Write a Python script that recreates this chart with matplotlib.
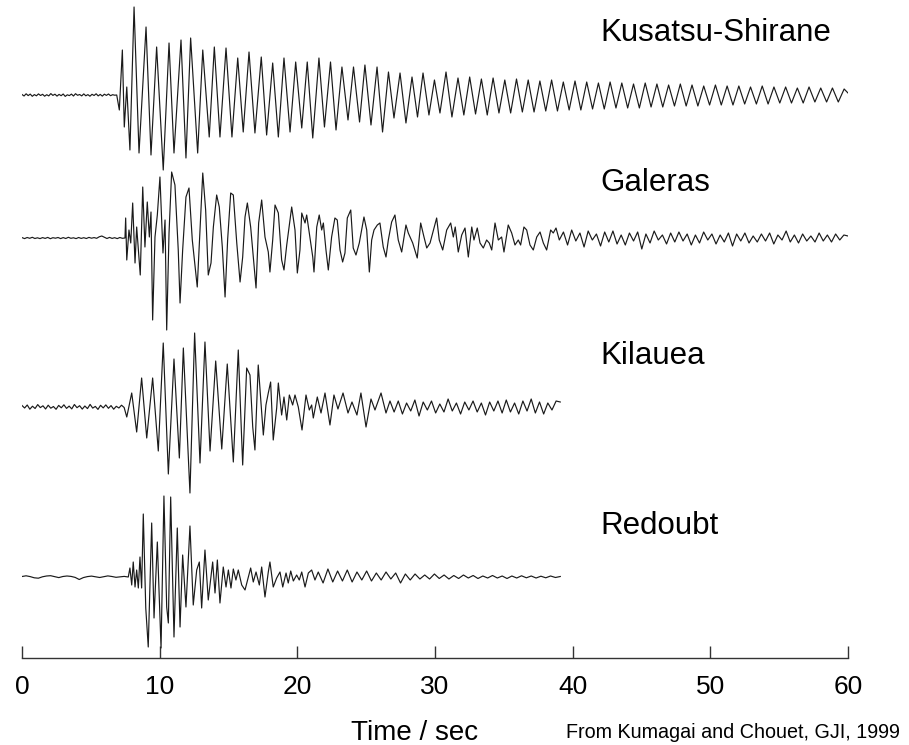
"""
Long-period volcanic events at four volcanoes, redrawn from
Kumagai and Chouet (GJI, 1999). Amplitudes are relative (picture units),
read off the published traces: noise before onset, then the extrema of
each oscillation, then the coda sampled on an even grid.
"""
import numpy as np
import matplotlib
matplotlib.use('Agg')
import matplotlib.pyplot as plt

# ── Data ──────────────────────────────────────────────────────────────────────
NAMES = ['Kusatsu-Shirane', 'Galeras', 'Kilauea', 'Redoubt']
TICKS = [0, 10, 20, 30, 40, 50, 60]

# Kusatsu-Shirane
KS_NOISE = [0.5, -1.0, 1.2, -0.6, 0.9, -1.3, 0.4, -0.8, 1.1, -0.5, 0.7, -1.2,
            0.3, -0.9, 1.4, -0.4, 0.8, -1.1, 0.6, -0.7, 1.0, -1.4, 0.2, -0.6,
            0.9, -1.0, 1.3, -0.3, 0.5, -0.9, 1.1, -0.8, 0.4, -1.2, 0.7, -0.5,
            1.2, -0.9, 0.6, -1.1, 0.8, -0.4, 1.0, -0.7, 0.3, -0.2]
KS_T = [6.88, 7.07, 7.29, 7.43, 7.61, 7.84, 8.14, 8.50, 9.01, 9.37, 9.78, 10.26,
        10.68, 11.04, 11.55, 11.91, 12.25, 12.76, 13.13, 13.60, 13.97, 14.38,
        14.82, 15.25, 15.67, 16.07, 16.49, 16.92, 17.38, 17.77, 18.21, 18.62,
        19.03, 19.47, 19.88, 20.32, 20.72, 21.12, 21.57, 21.97, 22.41, 22.81,
        23.24, 23.68, 24.08, 24.52, 24.91, 25.35, 25.79, 26.19, 26.62, 27.02,
        27.46, 27.89, 28.33, 28.73, 29.13, 29.56, 29.96, 30.36, 30.80, 31.23]
KS_A = [0, -15, 45, -32, 8, -55, 88, -58, 68, -60, 48, -75, 52, -58, 55, -63,
        57, -58, 45, -42, 48, -42, 47, -42, 37, -37, 43, -38, 38, -40, 32, -42,
        37, -37, 33, -33, 33, -43, 37, -32, 33, -35, 28, -25, 28, -27, 30, -30,
        28, -37, 23, -23, 22, -28, 18, -22, 22, -20, 15, -18, 23, -22]
KS_TAIL_SPAN = (31.67, 59.72)
KS_TAIL = [17, -20, 18, -19, 16, -20, 17, -18, 15, -18, 16, -17, 15, -17, 14,
           -16, 15, -16, 13, -15, 14, -15, 13, -14, 12, -14, 13, -13, 12, -13,
           11, -13, 12, -12, 11, -12, 10, -11, 11, -11, 10, -11, 9, -10, 10,
           -10, 9, -10, 9, -9, 8, -9, 9, -9, 8, -8, 8, -8, 7, -8, 8, -7, 7, -7,
           7, -7, 6]
KS_END = (60.0, 2)

# Galeras
GA_NOISE = [0.4, -0.6, 0.5, -0.3, 0.7, -0.5, 0.2, -0.6, 0.4, -0.4, 0.6, -0.7,
            0.3, -0.2, 0.5, -0.6, 0.4, -0.5, 0.7, -0.3, 0.2, -0.6, 0.5, -0.4,
            0.3, -0.5, 0.6, -0.2, 0.4, -0.3, 1.2, 2.0, 0.8, -0.5, 0.6, -0.4,
            0.3, -0.6, 0.5, -0.3]
GA_T = [7.48, 7.53, 7.61, 7.77, 7.90, 8.04, 8.21, 8.33, 8.59, 8.77, 8.93, 9.10,
        9.25, 9.37, 9.49, 9.66, 9.83, 10.02, 10.24, 10.39, 10.51, 10.68, 10.87,
        11.11, 11.35, 11.48, 11.67, 11.91, 12.13, 12.37, 12.73, 12.93, 13.13,
        13.34, 13.53, 13.73, 13.90, 14.14, 14.33, 14.55, 14.75, 14.94, 15.16,
        15.35, 15.60, 15.84, 16.03, 16.20, 16.37, 16.61, 17.00, 17.19, 17.41,
        17.65, 17.89, 18.01, 18.21, 18.38, 18.62, 18.86, 19.03, 19.23, 19.39,
        19.59, 19.83, 20.00, 20.19, 20.32, 20.56, 20.68, 20.87, 21.12, 21.21,
        21.41, 21.59, 21.77, 21.89, 22.08, 22.25, 22.49, 22.73, 22.90, 23.10,
        23.29, 23.46, 23.63, 23.88, 24.06, 24.26, 24.50, 24.84, 25.04, 25.23,
        25.40, 25.57, 25.81, 26.00, 26.24, 26.44, 26.61, 26.85, 27.09, 27.33,
        27.58, 27.89, 28.06, 28.38, 28.71, 28.96, 29.20, 29.40, 29.64, 29.83,
        30.12, 30.31, 30.56, 30.85, 31.14, 31.33, 31.47, 31.69, 31.94, 32.18,
        32.42, 32.67, 32.83, 33.07, 33.27, 33.51, 33.75, 33.94, 34.12, 34.36,
        34.60, 34.84, 35.01, 35.32, 35.57, 35.81, 36.05, 36.22, 36.46, 36.66,
        36.90, 37.14, 37.39, 37.63, 37.87, 38.11, 38.40, 38.59, 38.79, 39.03]
GA_A = [0, 20, -22, 8, -5, 35, -25, 11, -37, 51, -9, 36, 1, 26, -82, 1, 23, 61,
        -15, 18, -92, 5, 66, 53, -12, -65, -12, 41, 50, -2, -49, 8, 65, 28, -37,
        -25, 11, 43, 31, -9, -59, -1, 45, 43, -5, -44, -19, 21, 35, 11, -50, 15,
        38, 1, -14, -34, -2, 33, 25, -22, -32, -7, 10, 31, 8, -35, -12, 25, 15,
        23, 5, -19, -34, 11, 23, 8, 15, -12, -32, 1, 20, 18, -12, -24, -15, 20,
        28, -10, -17, -5, 21, 8, -34, -2, 8, 13, 15, -9, -19, -2, 16, 23, -2,
        -14, 13, 5, -5, -20, 15, 1, -10, -5, 5, 20, -2, -12, 8, 15, 1, 11, -14,
        3, 10, -19, 11, -2, 10, -5, -10, -2, -5, -12, 15, -2, 1, -14, 13, 5, -7,
        -2, -7, 11, 8, -7, -12, 1, 6, -5, -12, 8, 5, 10, -2]
GA_TAIL_SPAN = (39.33, 60.0)
GA_TAIL = [6, -7, 8, -3, 5, -9, 7, -2, 4, -8, 6, -4, 7, -6, 3, -7, 5, -3, 6,
           -11, 4, -5, 7, -2, 3, -6, 5, -4, 6, -3, 4, -7, 3, -5, 6, -2, 4, -6,
           3, -4, 5, -8, 4, -3, 5, -5, 2, -4, 4, -3, 5, -6, 3, -2, 7, -4, 3,
           -5, 4, -3, 2, -4, 5, -3, 3, -4, 4, -2, 3, 2]

# Kilauea
KI_NOISE = [1.5, -1.0, 2.0, -2.2, 0.8, -1.5, 2.4, -0.6, 1.2, -2.0, 1.8, -1.2,
            0.5, -2.3, 1.6, -0.8, 2.2, -1.4, 0.9, -1.9, 2.5, -0.7, 1.3, -2.1,
            1.0, -1.6, 2.6, -1.1, 0.6, -2.4, 1.7, -0.9, 2.1, -1.3, 1.4, -2.2,
            0.7, -1.0, 1.8, -0.5]
KI_T = [7.61, 7.97, 8.33, 8.69, 9.06, 9.49, 9.90, 10.26, 10.63, 11.04, 11.43,
        11.72, 12.20, 12.54, 12.93, 13.29, 13.66, 14.07, 14.51, 14.91, 15.35,
        15.71, 16.03, 16.32, 16.56, 16.76, 16.92, 17.16, 17.53, 17.72, 17.89,
        18.06, 18.25, 18.50, 18.62, 18.86, 19.03, 19.23, 19.42, 19.66, 19.83,
        20.07, 20.34, 20.63, 20.87, 21.04, 21.16, 21.45, 21.72, 22.01, 22.37,
        22.66, 22.95, 23.32, 23.68, 23.97, 24.33, 24.62, 24.99, 25.35, 25.64,
        26.08, 26.44, 26.73]
KI_A = [-10, 14, -25, 29, -31, 29, -44, 64, -67, 48, -51, 59, -86, 74, -56, 65,
        -44, 46, -42, 43, -55, 57, -58, 39, 32, -20, -43, 42, -28, 2, 14, 25,
        -33, -1, 24, -8, 10, -13, 12, 2, 12, 0, -23, 12, -3, 2, -11, 10, -6, 14,
        -18, 12, -2, 14, -6, 5, -8, 14, -20, 8, -3, 14, -6, 6]
KI_TAIL_SPAN = (27.03, 39.10)
KI_TAIL = [-5, 6, -7, 4, -4, 7, -9, 5, -3, 6, -6, 3, -5, 8, -4, 4, -7, 5, -3,
           6, -5, 4, -8, 5, -4, 6, -6, 7, -5, 4, -7, 6, -4, 8, -6, 5, -7, 4,
           -3, 6, 5]

# Redoubt
RD_NOISE = [0.5, 1.2, 0.4, -0.8, -1.2, 0.2, 1.0, 1.3, 0.3, -0.6, 0.5, 1.0,
            0.6, -0.4, -2.5, -0.6, 0.4, 0.9, 0.2, -0.5, 0.3, 1.1, 0.5, -0.3,
            0.2, 0.6]
RD_T = [7.72, 7.84, 7.97, 8.08, 8.21, 8.33, 8.45, 8.57, 8.69, 8.81, 8.99, 9.17,
        9.42, 9.59, 9.83, 10.10, 10.31, 10.51, 10.63, 10.80, 11.04, 11.28,
        11.48, 11.67, 11.91, 12.20, 12.44, 12.69, 12.88, 13.05, 13.29, 13.53,
        13.85, 14.02, 14.19, 14.38, 14.62, 14.82, 14.99, 15.18, 15.35, 15.54,
        15.71, 15.96, 16.20, 16.61, 16.80, 17.00, 17.24, 17.41, 17.65, 17.89,
        18.01, 18.25, 18.50, 18.74, 18.94, 19.18, 19.34, 19.52, 19.71, 19.95,
        20.14, 20.32, 20.56, 20.80, 21.04, 21.28, 21.52]
RD_A = [0, 9, -8, 15, -10, 7, -11, 20, -11, 63, -31, -70, 54, -41, 35, -71, 81,
        -30, -46, 80, -60, 49, -50, 22, -30, 51, -28, 7, 15, -31, 27, -23, 15,
        -16, 17, -26, 10, -10, 7, -11, 8, -3, 7, -8, -13, 9, -5, 5, -8, 10, -20,
        5, 15, -10, -1, 5, -10, 4, -6, 6, -4, 2, -3, 5, -10, 4, 7, -3, 5]
RD_TAIL_SPAN = (21.87, 39.10)
RD_TAIL = [-6, 8, -5, 6, -4, 7, -5, 5, -3, 6, -4, 4, -3, 5, -2, 4, -6, 3, -3,
           3, -2, 2, -2, 3, -1.5, 2, -2, 1.5, -1.5, 2, -1, 1.5, -1.5, 1, -1,
           1.5, -1, 1, -1.5, 1, -1, 1.2, -0.8, 1, -1, 0.8, -0.8, 1, -0.5, 0.5]

# ── Layout / style ────────────────────────────────────────────────────────────
W, H, DPI = 909, 745, 100
AX_LEFT, AX_RIGHT, AX_BOTTOM = 22, 848, 658         # pixel positions
BASELINES = [563, 420, 251, 81]                     # trace zero lines (axes units)
LABEL_Y = [617, 467, 294, 124]
LABEL_X = 41.98
TRACE_KW = dict(color='#1a1a1a', lw=0.85)

plt.rcParams['font.family'] = ['Liberation Sans', 'DejaVu Sans']


def build(noise, t_main, a_main, tail_span, tail, end=None):
    t = np.concatenate([np.linspace(0, t_main[0], len(noise), endpoint=False),
                        t_main,
                        np.linspace(tail_span[0], tail_span[1], len(tail))])
    a = np.concatenate([noise, a_main, tail])
    if end is not None:
        t = np.append(t, end[0])
        a = np.append(a, end[1])
    return t, a


traces = [
    build(KS_NOISE, KS_T, KS_A, KS_TAIL_SPAN, KS_TAIL, KS_END),
    build(GA_NOISE, GA_T, GA_A, GA_TAIL_SPAN, GA_TAIL),
    build(KI_NOISE, KI_T, KI_A, KI_TAIL_SPAN, KI_TAIL),
    build(RD_NOISE, RD_T, RD_A, RD_TAIL_SPAN, RD_TAIL),
]

fig = plt.figure(figsize=(W / DPI, H / DPI), dpi=DPI)
ax = fig.add_axes([AX_LEFT / W, (H - AX_BOTTOM) / H,
                   (AX_RIGHT - AX_LEFT) / W, AX_BOTTOM / H])

for (t, a), base, name, ly in zip(traces, BASELINES, NAMES, LABEL_Y):
    ax.plot(t, base + a, **TRACE_KW)
    ax.text(LABEL_X, ly, name, fontsize=22.5, ha='left', va='baseline')

ax.set_xlim(0, 60)
ax.set_ylim(0, AX_BOTTOM)
ax.set_xticks(TICKS)
ax.set_yticks([])
for side in ('left', 'top', 'right'):
    ax.spines[side].set_visible(False)
ax.spines['bottom'].set_linewidth(1.0)
ax.spines['bottom'].set_color('#333333')
ax.tick_params(axis='x', direction='in', length=9, width=1.0, color='#333333',
               labelsize=19, pad=12)
ax.patch.set_alpha(0)

fig.text(415 / W, 5 / H, 'Time / sec', fontsize=20, ha='center', va='baseline')
fig.text(566 / W, 7 / H, 'From Kumagai and Chouet, GJI, 1999', fontsize=14.2,
         ha='left', va='baseline')

fig.savefig('out.png', dpi=DPI)
